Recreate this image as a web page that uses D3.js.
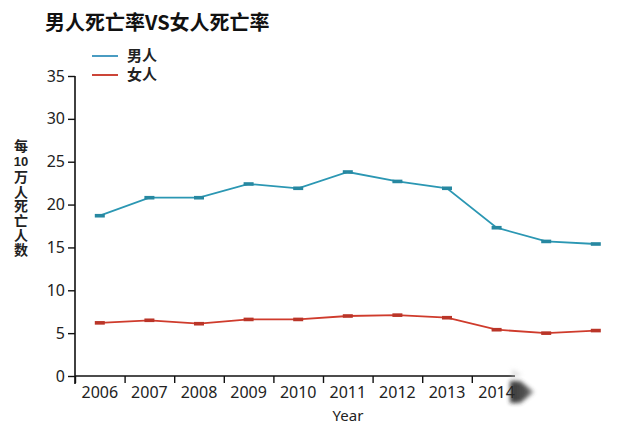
<!DOCTYPE html>
<html><head><meta charset="utf-8">
<script src="https://cdn.jsdelivr.net/npm/d3@7"></script>
<style>
body{margin:0;background:#fff;}
svg{display:block;}
</style></head>
<body>
<svg id="c" width="640" height="427"></svg>
<script>
const years = [2006,2007,2008,2009,2010,2011,2012,2013,2014,2015,2016];
const maleRate = [18.7,20.8,20.8,22.4,21.9,23.8,22.7,21.9,17.3,15.7,15.4];
const femaleRate = [6.2,6.5,6.1,6.6,6.6,7.0,7.1,6.8,5.4,5.0,5.3];
const xTickLabels = ["2006","2007","2008","2009","2010","2011","2012","2013","2014"];
const yTicks = [0,5,10,15,20,25,30,35];
const seriesNames = ["男人","女人"];
const titleText = "男人死亡率VS女人死亡率";
const yLabelParts = ["每","10","万人死亡人数"];
const xLabel = "Year";

const svg = d3.select("#c");
const font = "'Noto Sans','Noto Sans CJK SC',sans-serif";
const cjk = "'Noto Sans CJK SC','Noto Sans',sans-serif";
const maleColor = "#2b97b3", femaleColor = "#cf3b2c";

const x = d3.scaleLinear().domain([2005.5, 2006.5]).range([75, 124.6]);
const y = d3.scaleLinear().domain([0, 35]).range([376, 76]);

const defs = svg.append("defs");
const f = defs.append("filter").attr("id","blur").attr("x","-50%").attr("y","-50%").attr("width","200%").attr("height","200%");
f.append("feGaussianBlur").attr("stdDeviation", 2.2);
const g1 = defs.append("linearGradient").attr("id","ag").attr("x1","0").attr("x2","1");
g1.append("stop").attr("offset","0").attr("stop-color","#222");
g1.append("stop").attr("offset","0.7").attr("stop-color","#444");
g1.append("stop").attr("offset","1").attr("stop-color","#999");

// title
svg.append("text").attr("x",45).attr("y",30).attr("font-family",cjk).attr("font-weight","bold")
  .attr("font-size",20).attr("fill","#111").text(titleText);

// y axis
const yAxis = svg.append("g").attr("transform","translate(75,0)")
  .call(d3.axisLeft(y).tickValues(yTicks).tickSize(7).tickPadding(3));
yAxis.select(".domain").attr("d","M0,76V384").attr("stroke","#111").attr("stroke-width",1.6);
yAxis.selectAll(".tick line").attr("stroke","#111").attr("stroke-width",1.4);
yAxis.selectAll(".tick text").attr("font-family",font).attr("font-size",16).attr("fill","#222");

// x axis
const xTickVals = xTickLabels.map(d => +d - 0.5);
const xAxis = svg.append("g").attr("transform","translate(0,376)")
  .call(d3.axisBottom(x).tickValues(xTickVals).tickSize(7).tickFormat(""));
xAxis.select(".domain").attr("d","M75,0H515").attr("stroke","#111").attr("stroke-width",1.6);
xAxis.selectAll(".tick line").attr("stroke","#111").attr("stroke-width",1.4);
svg.append("g").selectAll("text").data(xTickLabels).join("text")
  .attr("x", d => x(+d)).attr("y", 398).attr("text-anchor","middle")
  .attr("font-family",font).attr("font-size",16).attr("fill","#222").text(d => d);

// arrow head (blurred)
svg.append("path").attr("d","M510,381 L520,381 L534,392 L520,403 L510,403 Z")
  .attr("fill","url(#ag)").attr("filter","url(#blur)").attr("opacity",0.9);
svg.append("path").attr("d","M512,369 L522,375 L512,378 Z").attr("fill","#ccc").attr("filter","url(#blur)").attr("opacity",0.6);

// x label
svg.append("text").attr("x",348).attr("y",421).attr("text-anchor","middle")
  .attr("font-family",font).attr("font-size",15).attr("fill","#222").text(xLabel);

// y label: vertical CJK with horizontal "10"
svg.append("text").attr("x",21).attr("y",139)
  .attr("font-family",cjk).attr("font-weight","bold").attr("font-size",14).attr("fill","#222")
  .style("writing-mode","vertical-rl").style("text-orientation","upright")
  .text(yLabelParts[0]);
svg.append("text").attr("x",21).attr("y",166).attr("text-anchor","middle")
  .attr("font-family","'Liberation Sans',sans-serif").attr("font-weight","bold").attr("font-size",13).attr("fill","#222")
  .text(yLabelParts[1]);
svg.append("text").attr("x",21).attr("y",170)
  .attr("font-family",cjk).attr("font-weight","bold").attr("font-size",14).attr("fill","#222")
  .attr("letter-spacing",0.5)
  .style("writing-mode","vertical-rl").style("text-orientation","upright")
  .text(yLabelParts[2]);

// lines
const line = d3.line().x((d,i)=>x(years[i])).y(d=>y(d));
function drawSeries(vals, color){
  svg.append("path").datum(vals).attr("d",line).attr("fill","none")
    .attr("stroke",color).attr("stroke-width",1.8);
  svg.append("g").selectAll("rect").data(vals).join("rect")
    .attr("x",(d,i)=>x(years[i])-5).attr("y",d=>y(d)-1.8).attr("width",10).attr("height",3.6)
    .attr("fill",d3.color(color).darker(0.3));
}
drawSeries(maleRate, maleColor);
drawSeries(femaleRate, femaleColor);

// legend
const legend = svg.append("g");
[[maleColor,56],[femaleColor,75]].forEach(([c,ly],i)=>{
  legend.append("line").attr("x1",92).attr("x2",118).attr("y1",ly).attr("y2",ly)
    .attr("stroke", i===0 ? "#4a9cc2" : "#cc4538").attr("stroke-width",2);
  legend.append("text").attr("x",127).attr("y",ly+5).attr("font-family",cjk).attr("font-weight","bold")
    .attr("font-size",15).attr("fill","#222").text(seriesNames[i]);
});
</script>
</body></html>
